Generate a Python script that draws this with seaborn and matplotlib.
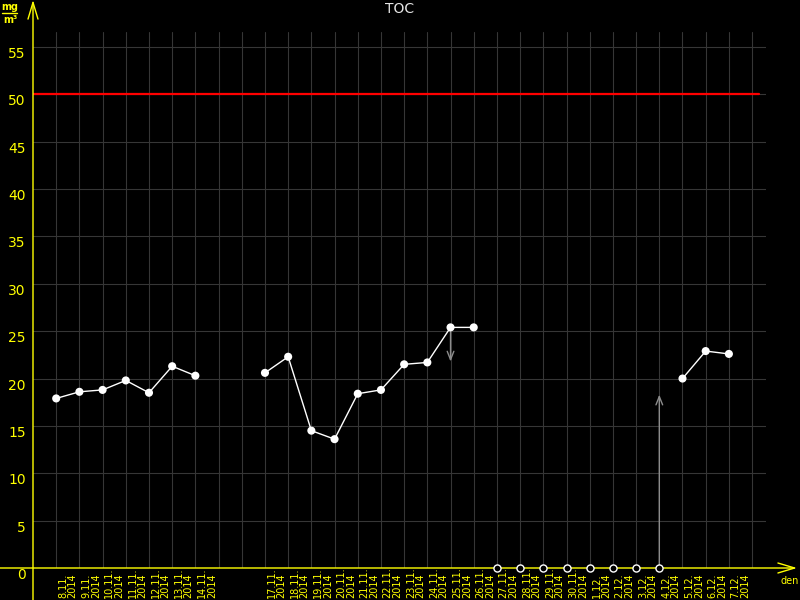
import numpy as np
import pandas as pd
import matplotlib
matplotlib.use("Agg")
import matplotlib.pyplot as plt
import matplotlib.transforms as mtransforms
import seaborn as sns

# --- data (TOC, mg/m3) ---
days = ["8.11.", "9.11.", "10.11.", "11.11.", "12.11.", "13.11.", "14.11.", "15.11.",
        "16.11.", "17.11.", "18.11.", "19.11.", "20.11.", "21.11.", "22.11.", "23.11.",
        "24.11.", "25.11.", "26.11.", "27.11.", "28.11.", "29.11.", "30.11.", "1.12.",
        "2.12.", "3.12.", "4.12.", "5.12.", "6.12.", "7.12."]
labelled_days = ["8.11.", "9.11.", "10.11.", "11.11.", "12.11.", "13.11.", "14.11.",
                 "17.11.", "18.11.", "19.11.", "20.11.", "21.11.", "22.11.", "23.11.",
                 "24.11.", "25.11.", "26.11.", "27.11.", "28.11.", "29.11.", "30.11.",
                 "1.12.", "2.12.", "3.12.", "4.12.", "5.12.", "6.12.", "7.12."]
year = "2014"
toc = [17.9, 18.6, 18.8, 19.8, 18.5, 21.3, 20.3, np.nan, np.nan, 20.6,
       22.3, 14.5, 13.6, 18.4, 18.8, 21.5, 21.7, 25.4, 25.4, np.nan,
       np.nan, np.nan, np.nan, np.nan, np.nan, np.nan, np.nan, 20.0, 22.9, 22.6]
zero_days = ["27.11.", "28.11.", "29.11.", "30.11.", "1.12.", "2.12.", "3.12.", "4.12."]
arrow_days = ["25.11.", "4.12."]
arrow_from = [25.4, 0.0]
arrow_to = [21.8, 18.3]
limit = 50
yticks = list(range(0, 60, 5))

df = pd.DataFrame({"day": days, "pos": range(len(days)), "toc": toc})
df["seg"] = df["toc"].isna().cumsum()
valid = df.dropna()
pos_of = dict(zip(days, range(len(days))))

YEL = "#ffff00"
sns.set_theme(style="dark")
plt.rcParams["font.family"] = ["DejaVu Sans"]

fig = plt.figure(figsize=(8, 6), dpi=100, facecolor="black")
ax = fig.add_axes([33 / 800, 32 / 600, 733 / 800, 536 / 600])
ax.set_facecolor("black")

ax.set_xlim(-1, 30.6)
ax.set_ylim(0, 536 / 9.473)

# grid
ax.set_xticks(range(0, 31))
ax.set_yticks(yticks)
ax.grid(True, which="major", color="#363636", lw=0.8)
ax.set_axisbelow(True)
for s in ax.spines.values():
    s.set_visible(False)

ax.tick_params(axis="x", which="major", colors=YEL, length=3, width=1, direction="out",
               labelbottom=False)
ax.tick_params(axis="y", which="major", colors=YEL, length=3.6, width=1, direction="out",
               labelsize=10, pad=1.5)
for lbl in ax.get_yticklabels():
    lbl.set_verticalalignment("top")

# limit line
ax.axhline(limit, xmin=0, xmax=0.99, color="#ff0000", lw=1.6, zorder=3)

# measured values
for seg, sub in valid.groupby("seg"):
    sns.lineplot(data=sub, x="pos", y="toc", color="white", lw=1, ax=ax,
                 estimator=None, zorder=4)
sns.scatterplot(data=valid, x="pos", y="toc", color="white", s=34, edgecolor="none",
                ax=ax, zorder=5, legend=False)

# values below detection (plotted at zero)
zero_pos = [pos_of[d] for d in zero_days]
sns.scatterplot(x=zero_pos, y=[0] * len(zero_pos), color="black", edgecolor="white",
                linewidth=1, s=26, ax=ax, zorder=6, clip_on=False, legend=False)

# arrows
for d, y0, y1 in zip(arrow_days, arrow_from, arrow_to):
    ax.annotate("", xy=(pos_of[d], y1), xytext=(pos_of[d], y0),
                arrowprops=dict(arrowstyle="->,head_length=0.5,head_width=0.2",
                                color="#8c8c8c", lw=1, shrinkA=0, shrinkB=0),
                zorder=3)

ax.set_xlabel("")
ax.set_ylabel("")

# date labels
trans = mtransforms.blended_transform_factory(ax.transData, fig.transFigure)
for d in labelled_days:
    ax.text(pos_of[d] + 0.5, 2 / 600, f"{d}\n{year}", transform=trans, rotation=90,
            ha="center", va="bottom", multialignment="left", color=YEL, fontsize=7,
            linespacing=0.95, clip_on=False)

# axes lines with arrows
ax.annotate("", xy=(33, 600), xytext=(33, 0), xycoords="figure pixels",
            arrowprops=dict(arrowstyle="->,head_length=1.0,head_width=0.3",
                            color=YEL, lw=1, shrinkA=0, shrinkB=0))
ax.annotate("", xy=(797, 32), xytext=(0, 32), xycoords="figure pixels",
            arrowprops=dict(arrowstyle="->,head_length=1.0,head_width=0.3",
                            color=YEL, lw=1, shrinkA=0, shrinkB=0))

fig.text(0.5, 1 - 9 / 600, "TOC", ha="center", va="center", color="#e6e6e6", fontsize=10)
fig.text(790 / 800, 1 - 581 / 600, "den", ha="center", va="center", color=YEL, fontsize=7)

# unit
fig.text(10 / 800, 1 - 7 / 600, "mg", ha="center", va="center", color=YEL, fontsize=7,
         fontweight="bold")
fig.add_artist(plt.Line2D([2 / 800, 17 / 800], [1 - 13 / 600] * 2, color=YEL, lw=1))
fig.text(10 / 800, 1 - 20 / 600, "m³", ha="center", va="center", color=YEL, fontsize=7,
         fontweight="bold")

fig.savefig("out.png", dpi=100, facecolor="black")
plt.close(fig)
